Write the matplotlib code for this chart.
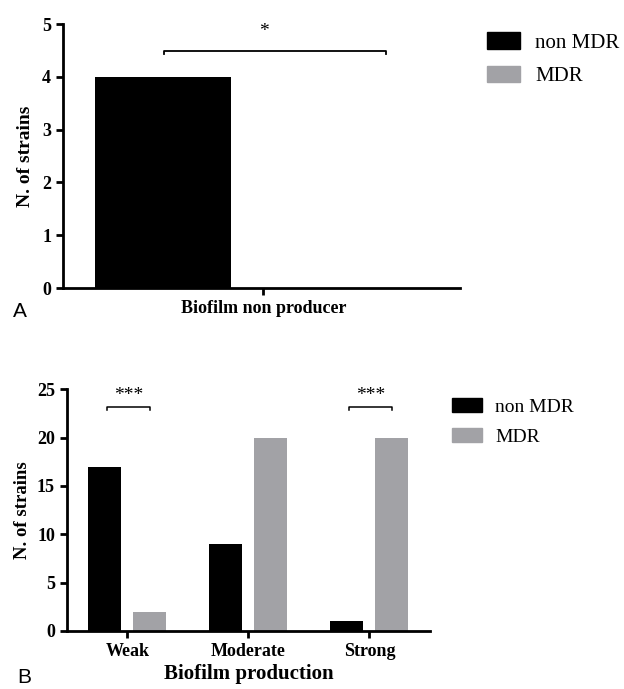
import matplotlib
matplotlib.use("Agg")
import matplotlib.pyplot as plt
from matplotlib.patches import Patch
import numpy as np

series = ["non MDR", "MDR"]
colors = ["#000000", "#a2a2a6"]

# Panel A
cat_a = ["Biofilm non producer"]
nonmdr_a = [4]
mdr_a = [0]

# Panel B
cat_b = ["Weak", "Moderate", "Strong"]
nonmdr_b = [17, 9, 1]
mdr_b = [2, 20, 20]
sig_b = ["***", "", "***"]

serif = "Liberation Serif"
fig = plt.figure(figsize=(6.24, 6.89), dpi=100)

def style(ax, size):
    for s in ["top", "right"]:
        ax.spines[s].set_visible(False)
    for s in ["left", "bottom"]:
        ax.spines[s].set_linewidth(2)
    ax.tick_params(width=2, length=5, labelsize=size)
    for lab in ax.get_xticklabels() + ax.get_yticklabels():
        lab.set_fontfamily(serif)
        lab.set_fontweight("bold")

# ---- Panel A ----
axA = fig.add_axes([0.101, 0.582, 0.636, 0.383])
x = np.arange(len(cat_a))
axA.bar(x - 0.252, nonmdr_a, width=0.343, color=colors[0])
axA.bar(x + 0.252, mdr_a, width=0.343, color=colors[1])
axA.set_xlim(-0.505, 0.495)
axA.set_ylim(0, 5)
axA.set_yticks(range(0, 6))
axA.set_xticks(x)
axA.set_xticklabels(cat_a)
axA.set_ylabel("N. of strains", fontfamily=serif, fontweight="bold", fontsize=14, labelpad=6)
style(axA, 13)
# significance bracket
xl, xr, yb = -0.25, 0.31, 4.49
axA.plot([xl, xl, xr, xr], [yb - 0.06, yb, yb, yb - 0.06], color="black", lw=1.3, clip_on=False)
axA.text((xl + xr) / 2 - 0.03, 4.78, "*", ha="center", va="baseline", fontsize=14, fontfamily=serif)
axA.legend(handles=[Patch(color=c, label=s) for c, s in zip(colors, series)],
           loc="upper left", bbox_to_anchor=(487 / 624, 1 - 32 / 689), bbox_transform=fig.transFigure,
           frameon=False, prop={"family": serif, "size": 15}, borderaxespad=0, borderpad=0,
           handlelength=1.59, handleheight=0.87, handletextpad=0.72, labelspacing=0.62)
fig.text(13 / 624, 1 - 317 / 689, "A", fontsize=15, fontfamily="Liberation Sans", va="baseline")

# ---- Panel B ----
axB = fig.add_axes([0.107, 0.0842, 0.582, 0.351])
xb = np.arange(len(cat_b))
axB.bar(xb - 0.186, nonmdr_b, width=0.273, color=colors[0])
axB.bar(xb + 0.186, mdr_b, width=0.273, color=colors[1])
axB.set_xlim(-0.5, 2.5)
axB.set_ylim(0, 25)
axB.set_yticks(range(0, 26, 5))
axB.set_xticks(xb)
axB.set_xticklabels(cat_b)
axB.set_ylabel("N. of strains", fontfamily=serif, fontweight="bold", fontsize=13.5, labelpad=4)
axB.set_xlabel("Biofilm production", fontfamily=serif, fontweight="bold", fontsize=15, labelpad=3)
style(axB, 13)
for i, s in enumerate(sig_b):
    if s:
        xl, xr, yb = i - 0.165, i + 0.19, 23.2
        axB.plot([xl, xl, xr, xr], [yb - 0.35, yb, yb, yb - 0.35], color="black", lw=1.1, clip_on=False)
        axB.text((xl + xr) / 2, 23.85, s, ha="center", va="baseline", fontsize=14, fontfamily=serif)
axB.legend(handles=[Patch(color=c, label=s) for c, s in zip(colors, series)],
           loc="upper left", bbox_to_anchor=(452 / 624, 1 - 398 / 689), bbox_transform=fig.transFigure,
           frameon=False, prop={"family": serif, "size": 14}, borderaxespad=0, borderpad=0,
           handlelength=1.55, handleheight=0.77, handletextpad=0.67, labelspacing=0.6)
fig.text(17 / 624, 1 - 683 / 689, "B", fontsize=15, fontfamily="Liberation Sans", va="baseline")

fig.savefig("out.png", dpi=100, facecolor="white")
